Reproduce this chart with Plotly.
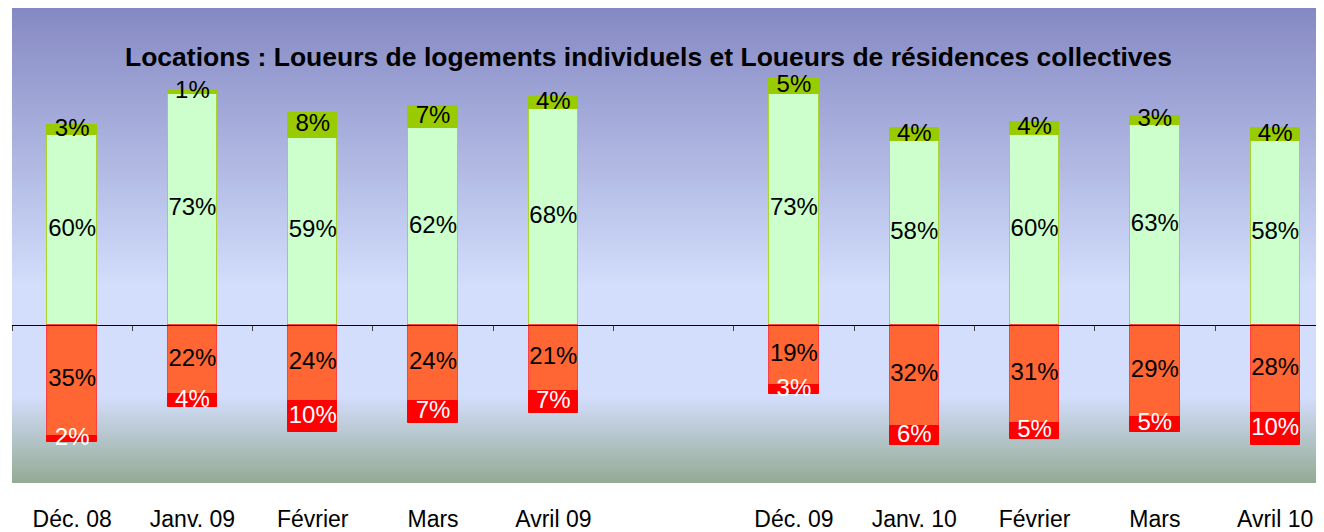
import plotly.graph_objects as go

# ---- data ----
categories = ["Déc. 08", "Janv. 09", "Février", "Mars", "Avril 09", "",
              "Déc. 09", "Janv. 10", "Février", "Mars", "Avril 10"]
up_main = [60, 73, 59, 62, 68, None, 73, 58, 60, 63, 58]      # light green
up_strong = [3, 1, 8, 7, 4, None, 5, 4, 4, 3, 4]              # dark green
down_main = [35, 22, 24, 24, 21, None, 19, 32, 31, 29, 28]    # orange
down_strong = [2, 4, 10, 7, 7, None, 3, 6, 5, 5, 10]          # red
subtitle = "Locations : Loueurs de logements individuels et Loueurs de résidences collectives"

FONT = "Liberation Sans, Arial, sans-serif"
xs = list(range(len(categories)))
label_x = [x for x, c in zip(xs, categories) if c]
label_t = [c for c in categories if c]
boundaries = [i - 0.5 for i in range(len(categories))]

def neg(v):
    return None if v is None else -v

def pct(v):
    return "" if v is None else f"{v}%"

fig = go.Figure()
BW = 0.41
fig.add_bar(x=xs, y=up_main, width=BW, name="up_main",
            marker=dict(color="#CCFFCC", line=dict(color="#A8D62E", width=1)))
fig.add_bar(x=xs, y=up_strong, width=BW, name="up_strong",
            marker=dict(color="#99CC00", line=dict(color="#99CC00", width=1)))
fig.add_bar(x=xs, y=[neg(v) for v in down_main], width=BW, name="down_main",
            marker=dict(color="#FF6633", line=dict(color="#FF4040", width=1)))
fig.add_bar(x=xs, y=[neg(v) for v in down_strong], width=BW, name="down_strong",
            marker=dict(color="#FF0000", line=dict(color="#FF0000", width=1)))

# labels centred in each segment
def mids(base, vals, sign):
    out = []
    for b, v in zip(base, vals):
        if v is None:
            out.append(None)
        else:
            out.append(sign * ((b or 0) + v / 2))
    return out

zero = [0] * len(xs)
for ys, vals, col in [
    (mids(zero, up_main, 1), up_main, "black"),
    (mids(up_main, up_strong, 1), up_strong, "black"),
    (mids(zero, down_main, -1), down_main, "black"),
    (mids(down_main, down_strong, -1), down_strong, "white"),
]:
    fig.add_scatter(x=xs, y=ys, mode="text", text=[pct(v) for v in vals],
                    textposition="middle center",
                    textfont=dict(family=FONT, size=24, color=col),
                    hoverinfo="skip", showlegend=False)

# helper trace for the zero-line axis with boundary ticks
fig.add_scatter(x=[None], y=[None], xaxis="x2", yaxis="y", mode="markers",
                showlegend=False, hoverinfo="skip")

# gradient background
def lerp(c1, c2, t):
    return tuple(round(a + (b - a) * t) for a, b in zip(c1, c2))

stops = [(0.0, (148, 170, 148)), (0.183, (211, 222, 252)),
         (0.4125, (211, 222, 252)), (1.0, (133, 137, 195))]
N = 160
shapes = []
for i in range(N):
    f0, f1 = i / N, (i + 1) / N
    fm = (f0 + f1) / 2
    for (a, ca), (b, cb) in zip(stops[:-1], stops[1:]):
        if a <= fm <= b:
            c = lerp(ca, cb, (fm - a) / (b - a))
            break
    shapes.append(dict(type="rect", xref="paper", yref="paper", x0=0, x1=1,
                       y0=f0, y1=f1 + 0.002, line=dict(width=0),
                       fillcolor=f"rgb{c}", layer="below"))

# the page body has an 8px default margin; size the figure to fill the window
fig.update_layout(
    width=1316, height=524,
    margin=dict(l=4, r=0, t=0, b=44),
    paper_bgcolor="white", plot_bgcolor="rgba(0,0,0,0)",
    barmode="relative", bargap=0, showlegend=False,
    shapes=shapes,
    font=dict(family=FONT, color="black"),
    xaxis=dict(range=[-0.5, 10.406], tickvals=label_x, ticktext=label_t,
               ticks="outside", ticklen=15, tickcolor="rgba(0,0,0,0)",
               tickfont=dict(family=FONT, size=23, color="black"),
               showgrid=False, zeroline=False, showline=False, fixedrange=True),
    xaxis2=dict(overlaying="x", matches="x", anchor="free", position=1/3,
                showline=True, linecolor="black", linewidth=1,
                ticks="outside", tickvals=boundaries, ticklen=5, tickwidth=1,
                tickcolor="#444444", showticklabels=False, showgrid=False,
                zeroline=False),
    yaxis=dict(range=[-50, 100], visible=False, showgrid=False, zeroline=False),
    annotations=[dict(text=subtitle, xref="paper", yref="paper",
                      x=0.4848, y=0.8958, xanchor="center", yanchor="middle",
                      showarrow=False,
                      font=dict(family=FONT, size=26.5, color="black", weight="bold"))],
)

fig.write_html("out.html")
